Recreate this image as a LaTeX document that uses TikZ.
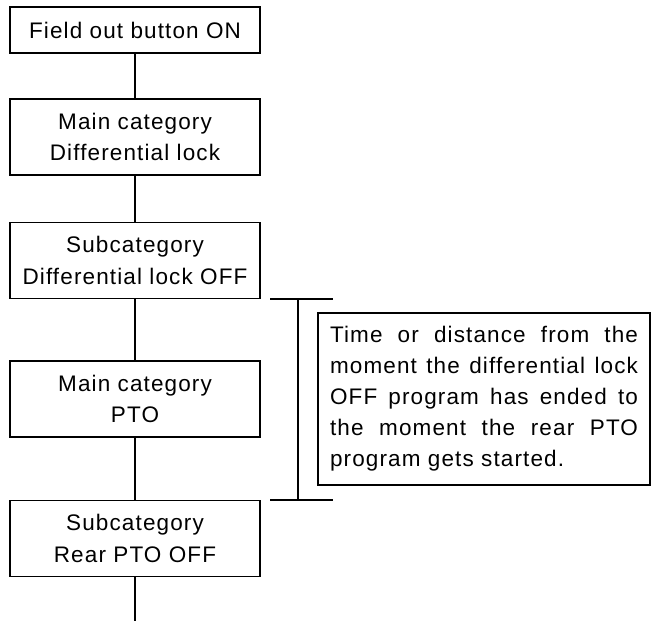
\documentclass[tikz,border=0pt]{standalone}
\usepackage{fontspec}
\setmainfont{Liberation Sans}[LetterSpace=5]
\usetikzlibrary{positioning}
\newcommand{\fullline}[1]{\makebox[308pt][s]{#1}}
\tikzset{
    stepbox/.style={rectangle, draw, line width=1.9pt, minimum width=250pt, minimum height=76pt, inner sep=0pt, align=center, font=\fontsize{22.5}{31.5}\selectfont},
    notebox/.style={rectangle, draw, line width=1.9pt, minimum width=332pt, minimum height=172pt, inner sep=0pt, align=left, font=\fontsize{22.5}{31}\selectfont},
    link/.style={line width=1.9pt},
}
\begin{document}
\begin{tikzpicture}[x=1pt, y=-1pt]
    \useasboundingbox (0,0) rectangle (655,621);

    % Blocchi del flusso
    \node[stepbox, minimum height=46pt] (fieldout) at (135,30) {Field out button ON};
    \node[stepbox] (maindiff) at (135,137) {Main category\\Differential lock};
    \node[stepbox] (subdiff) at (135,260.5) {Subcategory\\Differential lock OFF};
    \node[stepbox] (mainpto) at (135,399) {Main category\\PTO};
    \node[stepbox] (subpto) at (135,538.5) {Subcategory\\Rear PTO OFF};
    \coordinate (flowend) at (135,621);

    % Collegamenti
    \draw[link] (fieldout) -- (maindiff);
    \draw[link] (maindiff) -- (subdiff);
    \draw[link] (subdiff) -- (mainpto);
    \draw[link] (mainpto) -- (subpto);
    \draw[link] (subpto) -- (flowend);

    % Intervallo tra i due programmi
    \coordinate (gaptopL) at (270,299);
    \coordinate (gaptopR) at (333,299);
    \coordinate (gaptopM) at (298,299);
    \coordinate (gapbotL) at (270,500);
    \coordinate (gapbotR) at (333,500);
    \coordinate (gapbotM) at (298,500);
    \draw[link] (gaptopL) -- (gaptopR);
    \draw[link] (gapbotL) -- (gapbotR);
    \draw[link] (gaptopM) -- (gapbotM);

    % Nota
    \node[notebox] (gapnote) at (484,399) {
        \fullline{Time or distance from the}\\
        \fullline{moment the differential lock}\\
        \fullline{OFF program has ended to}\\
        \fullline{the moment the rear PTO}\\
        program gets started.
    };
\end{tikzpicture}
\end{document}
